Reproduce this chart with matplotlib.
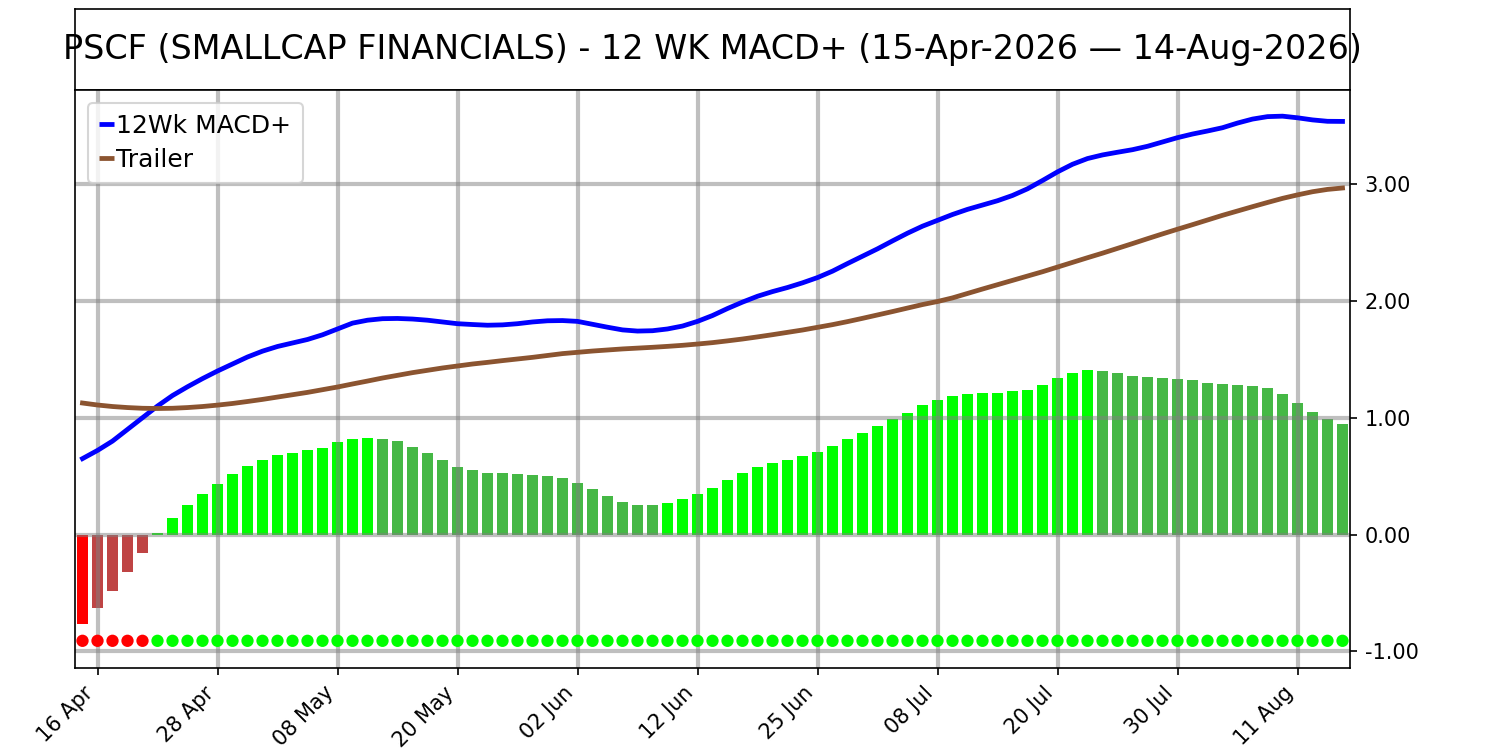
import numpy as np
import pandas as pd
import matplotlib
matplotlib.use('Agg')
import matplotlib.pyplot as plt
from matplotlib.ticker import FormatStrFormatter

# dias de pregão (sem feriados: 25-May, 19-Jun, 03-Jul)
feriados = ['2026-05-25', '2026-06-19', '2026-07-03']
datas = pd.bdate_range('2026-04-15', '2026-08-14')
datas = datas[~datas.isin(pd.to_datetime(feriados))]

macd = [0.65, 0.72, 0.80, 0.90, 1.00, 1.10, 1.19, 1.265, 1.335, 1.40,
        1.46, 1.52, 1.57, 1.61, 1.64, 1.67, 1.71, 1.76, 1.81, 1.835,
        1.848, 1.85, 1.845, 1.835, 1.82, 1.805, 1.798, 1.792, 1.795, 1.805,
        1.82, 1.83, 1.832, 1.825, 1.80, 1.775, 1.752, 1.742, 1.745, 1.76,
        1.785, 1.825, 1.875, 1.935, 1.99, 2.04, 2.08, 2.115, 2.155, 2.20,
        2.255, 2.32, 2.383, 2.446, 2.514, 2.58, 2.64, 2.69, 2.74, 2.784,
        2.821, 2.858, 2.903, 2.96, 3.031, 3.105, 3.17, 3.219, 3.25, 3.273,
        3.295, 3.324, 3.361, 3.398, 3.429, 3.455, 3.483, 3.523, 3.557, 3.578,
        3.582, 3.568, 3.55, 3.538, 3.537]

trailer = [1.126, 1.109, 1.096, 1.087, 1.081, 1.079, 1.081, 1.087, 1.096, 1.108,
           1.122, 1.139, 1.157, 1.177, 1.197, 1.217, 1.24, 1.263, 1.289, 1.314,
           1.34, 1.363, 1.386, 1.406, 1.426, 1.443, 1.46, 1.474, 1.489, 1.503,
           1.517, 1.533, 1.549, 1.56, 1.571, 1.58, 1.589, 1.596, 1.603, 1.611,
           1.62, 1.631, 1.643, 1.658, 1.674, 1.692, 1.711, 1.731, 1.751, 1.774,
           1.797, 1.823, 1.851, 1.88, 1.909, 1.939, 1.969, 1.995, 2.026, 2.064,
           2.102, 2.139, 2.176, 2.213, 2.25, 2.29, 2.33, 2.37, 2.409, 2.45,
           2.491, 2.533, 2.574, 2.614, 2.653, 2.693, 2.733, 2.77, 2.807, 2.843,
           2.878, 2.908, 2.935, 2.955, 2.967]

hist = [-0.77, -0.63, -0.48, -0.32, -0.16, 0.01, 0.14, 0.25, 0.35, 0.43,
        0.52, 0.59, 0.64, 0.68, 0.70, 0.72, 0.74, 0.79, 0.82, 0.83,
        0.82, 0.80, 0.75, 0.70, 0.64, 0.58, 0.55, 0.53, 0.53, 0.52,
        0.51, 0.50, 0.48, 0.44, 0.39, 0.33, 0.28, 0.253, 0.25, 0.27,
        0.305, 0.35, 0.40, 0.47, 0.53, 0.58, 0.615, 0.64, 0.67, 0.71,
        0.76, 0.82, 0.87, 0.93, 0.985, 1.04, 1.11, 1.155, 1.19, 1.20,
        1.21, 1.215, 1.225, 1.24, 1.28, 1.34, 1.385, 1.405, 1.40, 1.385,
        1.36, 1.345, 1.34, 1.335, 1.32, 1.30, 1.285, 1.28, 1.275, 1.255,
        1.205, 1.13, 1.05, 0.99, 0.95]

nivel_sinal = -0.91  # linha de pontos de sinal
titulo = 'PSCF (SMALLCAP FINANCIALS) - 12 WK MACD+ (15-Apr-2026 \u2014 14-Aug-2026)'

x = np.arange(len(datas))

# cores do histograma
cores = []
for i, h in enumerate(hist):
    ant = hist[i - 1] if i > 0 else None
    if h >= 0:
        cores.append('#00ff00' if (ant is None or h > ant) else '#45b845')
    else:
        cores.append('#ff0000' if (ant is None or h < ant) else '#bf4444')
cores_pontos = ['#00ff00' if h >= 0 else '#ff0000' for h in hist]

fig = plt.figure(figsize=(10, 5), dpi=150)

# caixa do título
ax_t = fig.add_axes([0.05, 0.88, 0.85, 0.108])
ax_t.set_xticks([])
ax_t.set_yticks([])
ax_t.text(0.5, 0.5, titulo, ha='center', va='center', fontsize=16, transform=ax_t.transAxes)

ax = fig.add_axes([0.05, 0.1093, 0.85, 0.7707])
ax.bar(x, hist, width=0.7, color=cores)
ax.plot(x, macd, color='blue', lw=2.3, label='12Wk MACD+')
ax.plot(x, trailer, color='#8b5430', lw=2.3, label='Trailer')
ax.scatter(x, [nivel_sinal] * len(x), s=24, color=cores_pontos, zorder=3)

ax.set_xlim(-0.5, len(x) - 0.5)
ax.set_ylim(-1.143, 3.806)
ax.set_yticks([-1, 0, 1, 2, 3])
ax.yaxis.set_major_formatter(FormatStrFormatter('%.2f'))
ax.yaxis.tick_right()
pos = x[1::8]
ax.set_xticks(pos)
ax.set_xticklabels([datas[i].strftime('%d %b') for i in pos], rotation=45, ha='right')
ax.tick_params(labelsize=10)
ax.grid(color='gray', alpha=0.5, lw=2)
leg = ax.legend(loc='upper left', fontsize=12, handlelength=0.6, handletextpad=0.1,
                borderpad=0.45, labelspacing=0.4)
for linha in leg.get_lines():
    linha.set_solid_capstyle('butt')

plt.savefig('out.png')
